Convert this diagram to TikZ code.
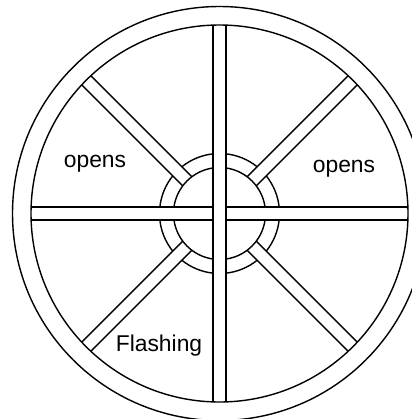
\documentclass[tikz,border=0pt]{standalone}
\usepackage{fontspec}
\setmainfont{Liberation Sans}
\usetikzlibrary{calc}

\tikzset{
  wheelline/.style={line width=0.8pt, black},
  wheellabel/.style={font=\fontsize{13}{15}\selectfont, inner sep=0pt, anchor=base}
}

\begin{document}
\begin{tikzpicture}[x=0.02cm, y=-0.02cm]
  \useasboundingbox (0,0) rectangle (412,419);
  \clip (0,0) rectangle (412,419);
  \pgfmathsetmacro{\halfw}{6.5}
  \pgfmathsetmacro{\rimin}{188.5}
  \pgfmathsetmacro{\hubin}{46}
  \pgfmathsetmacro{\hubout}{60}
  \pgfmathsetmacro{\rimend}{\rimin*cos(asin(\halfw/\rimin))}
  \pgfmathsetmacro{\hubend}{\hubin*cos(asin(\halfw/\hubin))}
  \pgfmathsetmacro{\gapin}{asin(\halfw/\hubin)}
  \pgfmathsetmacro{\gapout}{asin(\halfw/\hubout)}
  \begin{scope}[shift={(219.5,213.5)}, wheelline]
    % rim
    \draw (0,0) circle[radius=207];
    \draw (0,0) circle[radius=\rimin];
    % vertical spoke
    \draw (-\halfw,-\rimend) -- (-\halfw,\rimend);
    \draw (\halfw,-\rimend) -- (\halfw,\rimend);
    % horizontal spoke
    \foreach \s in {-1,1} {
      \draw (-\rimend,\s*\halfw) -- (-\halfw,\s*\halfw);
      \draw (\halfw,\s*\halfw) -- (\rimend,\s*\halfw);
    }
    % diagonal spokes
    \foreach \a in {45,135,225,315} {
      \begin{scope}[rotate=\a]
        \draw (\hubend,-\halfw) -- (\rimend,-\halfw);
        \draw (\hubend,\halfw) -- (\rimend,\halfw);
      \end{scope}
    }
    % hub
    \foreach \a in {0,90,180,270}
      \draw (\a+\gapin:\hubin) arc[start angle=\a+\gapin, end angle=\a+90-\gapin, radius=\hubin];
    \foreach \a in {0,45,...,315}
      \draw (\a+\gapout:\hubout) arc[start angle=\a+\gapout, end angle=\a+45-\gapout, radius=\hubout];
  \end{scope}

  \node[wheellabel] (opensleft) at (95,167) {opens};
  \node[wheellabel] (opensright) at (344,172) {opens};
  \node[wheellabel] (flashing) at (159,351) {Flashing};
\end{tikzpicture}
\end{document}
